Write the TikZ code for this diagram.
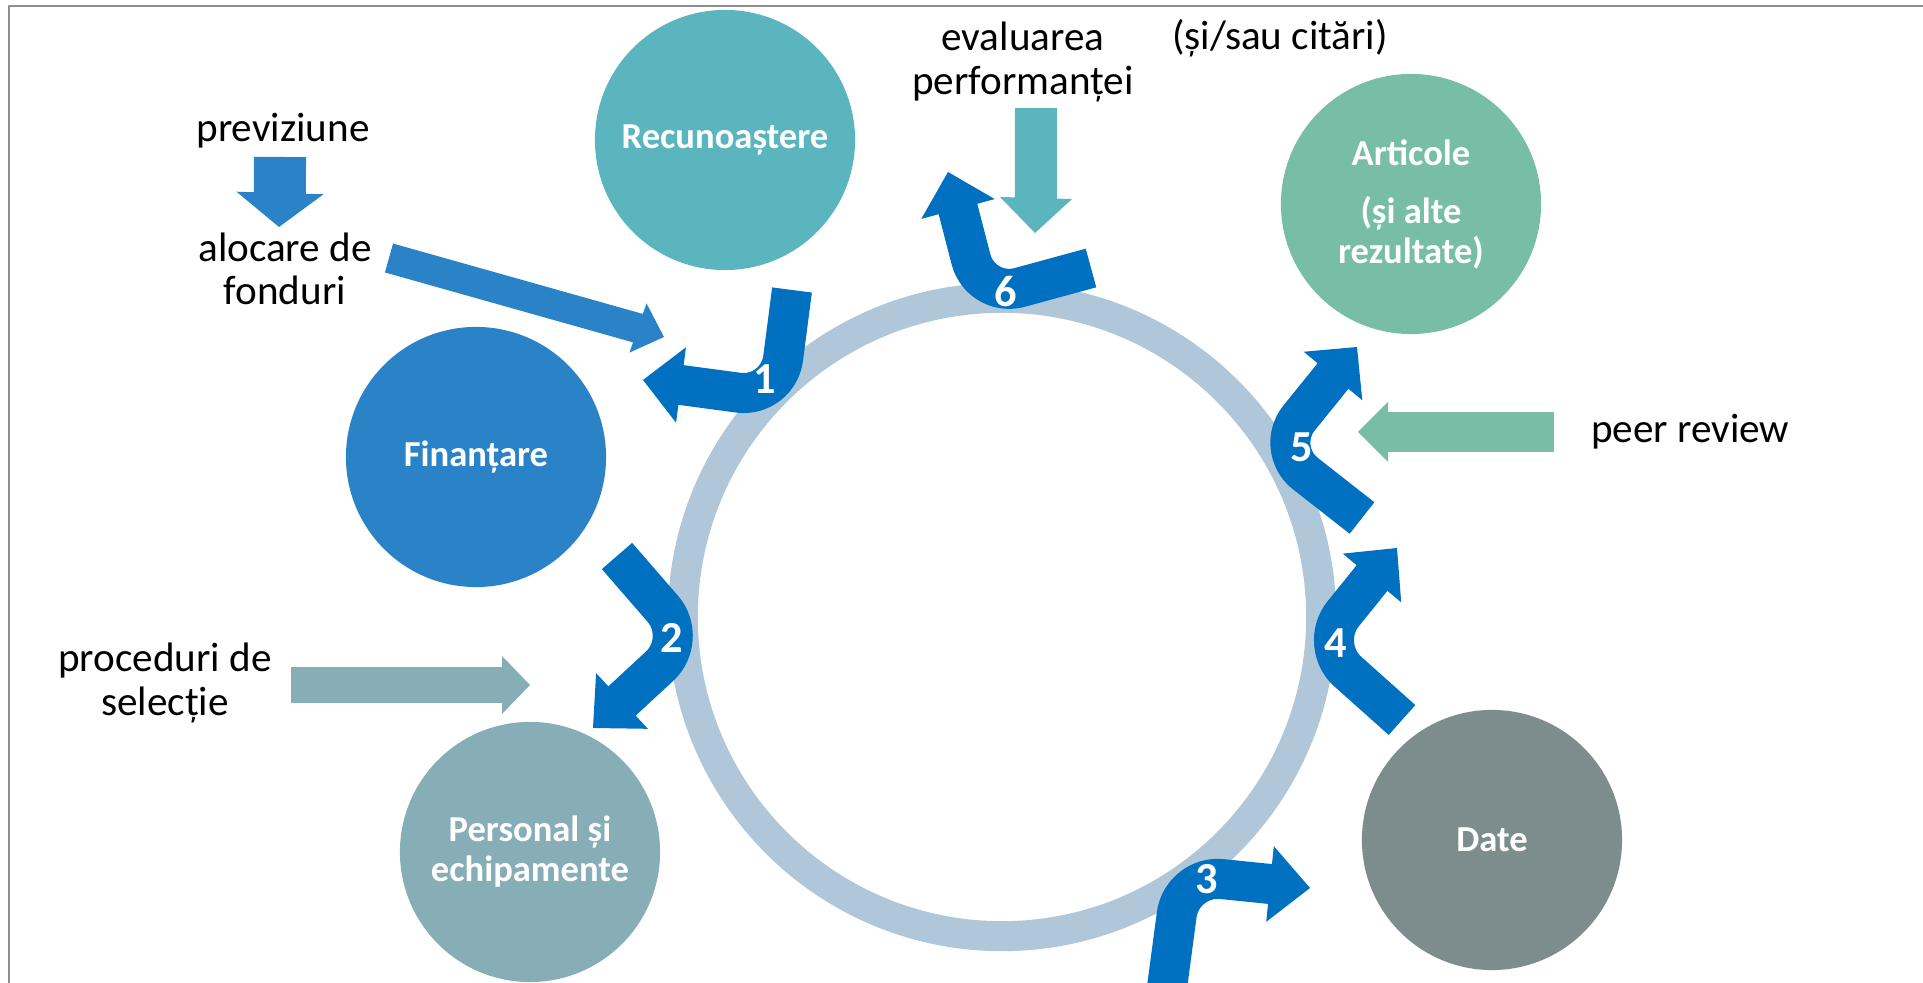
\documentclass[tikz,border=0pt]{standalone}
\usepackage{fontspec}
\setmainfont{Carlito}
\usetikzlibrary{calc}
\definecolor{framecol}{HTML}{8F8F8F}
\definecolor{ringcol}{HTML}{AFC7D9}
\definecolor{loopcol}{HTML}{0070C0}
\definecolor{reccol}{HTML}{5BB5BF}
\definecolor{fincol}{HTML}{2983C6}
\definecolor{perscol}{HTML}{87ADB7}
\definecolor{datecol}{HTML}{7D8D8D}
\definecolor{artcol}{HTML}{78BEA6}

\begin{document}
\begin{tikzpicture}[line cap=butt,line join=round,x=0.01cm,y=-0.01cm,
  stage/.style={circle,minimum size=2.6cm,inner sep=0pt,text=white,align=center,font=\bfseries\fontsize{10.4pt}{11.4pt}\selectfont},
  notetext/.style={align=center,font=\fontsize{11.7pt}{12.4pt}\selectfont},
  cyclearrow/.style={draw=loopcol,line width=0.4cm,rounded corners=0.4cm},
  stepno/.style={text=white,font=\bfseries\fontsize{12.6pt}{13pt}\selectfont}]
\useasboundingbox (0,0) rectangle (1923,983);
\clip (0,0) rectangle (1923,983);
\draw[framecol,line width=0.02cm] (9,6) rectangle (1960,1010);

\coordinate (ringc) at (1002,617);
\draw[ringcol,line width=0.3cm] (ringc) circle (3.19cm);

\node[stage,fill=reccol] (recunoastere) at (725,140) {Recunoaștere};
\node[stage,fill=fincol] (finantare) at (476,457) {Finanțare};
\node[stage,fill=perscol] (personal) at (530,852) {Personal și\\echipamente};
\node[stage,fill=datecol] (date) at (1492,840) {Date};
\node[stage,fill=artcol] (articole) at (1411,204) {Articole\\[5.1pt](și alte\\rezultate)};

\coordinate (pvt) at (280,157);
\coordinate (pvb) at (280,193);
\coordinate (pvp) at (279,227);
\draw[fincol,line width=0.52cm] (pvt) -- ($(pvb)!0.03cm!(pvp)$);
\fill[fincol] ($(pvb)!0.435cm!90:(pvp)$) -- (pvp) -- ($(pvb)!0.435cm!-90:(pvp)$) -- cycle;

\coordinate (alt) at (389,258);
\coordinate (alb) at (638,328);
\coordinate (alp) at (664,337);
\draw[fincol,line width=0.3cm] (alt) -- ($(alb)!0.03cm!(alp)$);
\fill[fincol] ($(alb)!0.26cm!90:(alp)$) -- (alp) -- ($(alb)!0.26cm!-90:(alp)$) -- cycle;

\coordinate (evt) at (1036,108);
\coordinate (evb) at (1036,198);
\coordinate (evp) at (1035,233);
\draw[reccol,line width=0.42cm] (evt) -- ($(evb)!0.03cm!(evp)$);
\fill[reccol] ($(evb)!0.36cm!90:(evp)$) -- (evp) -- ($(evb)!0.36cm!-90:(evp)$) -- cycle;

\coordinate (prt) at (1554,432);
\coordinate (prb) at (1388,432);
\coordinate (prp) at (1358,432);
\draw[artcol,line width=0.39cm] (prt) -- ($(prb)!0.03cm!(prp)$);
\fill[artcol] ($(prb)!0.3cm!90:(prp)$) -- (prp) -- ($(prb)!0.3cm!-90:(prp)$) -- cycle;

\coordinate (pst) at (291,685);
\coordinate (psb) at (502,685);
\coordinate (psp) at (530,685);
\draw[perscol,line width=0.36cm] (pst) -- ($(psb)!0.03cm!(psp)$);
\fill[perscol] ($(psb)!0.29cm!90:(psp)$) -- (psp) -- ($(psb)!0.29cm!-90:(psp)$) -- cycle;

\coordinate (a1t) at (792,290);
\coordinate (a1v) at (778,398);
\coordinate (a1b) at (681,385);
\coordinate (a1p) at (643,380);
\draw[cyclearrow] (a1t) -- (a1v) -- ($(a1b)!0.03cm!(a1p)$);
\fill[loopcol] ($(a1b)!0.38cm!90:(a1p)$) -- (a1p) -- ($(a1b)!0.38cm!-90:(a1p)$) -- cycle;

\coordinate (a2t) at (617,556);
\coordinate (a2v) at (689,639);
\coordinate (a2b) at (622,701);
\coordinate (a2p) at (593,728);
\draw[cyclearrow] (a2t) -- (a2v) -- ($(a2b)!0.03cm!(a2p)$);
\fill[loopcol] ($(a2b)!0.38cm!90:(a2p)$) -- (a2p) -- ($(a2b)!0.38cm!-90:(a2p)$) -- cycle;

\coordinate (a3t) at (1166,995);
\coordinate (a3v) at (1182,875);
\coordinate (a3b) at (1270,884);
\coordinate (a3p) at (1310,888);
\draw[cyclearrow] (a3t) -- (a3v) -- ($(a3b)!0.03cm!(a3p)$);
\fill[loopcol] ($(a3b)!0.38cm!90:(a3p)$) -- (a3p) -- ($(a3b)!0.38cm!-90:(a3p)$) -- cycle;

\coordinate (a4t) at (1402,720);
\coordinate (a4v) at (1318,645);
\coordinate (a4b) at (1372,578);
\coordinate (a4p) at (1397,548);
\draw[cyclearrow] (a4t) -- (a4v) -- ($(a4b)!0.03cm!(a4p)$);
\fill[loopcol] ($(a4b)!0.38cm!90:(a4p)$) -- (a4p) -- ($(a4b)!0.38cm!-90:(a4p)$) -- cycle;

\coordinate (a5t) at (1362,518);
\coordinate (a5v) at (1274,449);
\coordinate (a5b) at (1333,376);
\coordinate (a5p) at (1357,347);
\draw[cyclearrow] (a5t) -- (a5v) -- ($(a5b)!0.03cm!(a5p)$);
\fill[loopcol] ($(a5b)!0.38cm!90:(a5p)$) -- (a5p) -- ($(a5b)!0.38cm!-90:(a5p)$) -- cycle;

\coordinate (a6t) at (1091,268);
\coordinate (a6v) at (981,298);
\coordinate (a6b) at (958,209);
\coordinate (a6p) at (948,172);
\draw[cyclearrow] (a6t) -- (a6v) -- ($(a6b)!0.03cm!(a6p)$);
\fill[loopcol] ($(a6b)!0.38cm!90:(a6p)$) -- (a6p) -- ($(a6b)!0.38cm!-90:(a6p)$) -- cycle;

\node[stepno] (n1) at (765,379) {1};
\node[stepno] (n2) at (672,638) {2};
\node[stepno] (n3) at (1207,879) {3};
\node[stepno] (n4) at (1336,643) {4};
\node[stepno] (n5) at (1302,447) {5};
\node[stepno] (n6) at (1006,292) {6};

\node[notetext,anchor=base] (previziune) at (283,142) {previziune};
\node[notetext] (alocare) at (285,269) {alocare de\\fonduri};
\node[notetext] (evaluare) at (1023,62) {evaluarea\\performanței};
\node[notetext,anchor=base] (citari) at (1280,50) {(și/sau citări)};
\node[notetext,anchor=base] (peer) at (1690,443) {peer review};
\node[notetext] (proceduri) at (165,683) {proceduri de\\selecție};
\end{tikzpicture}
\end{document}
